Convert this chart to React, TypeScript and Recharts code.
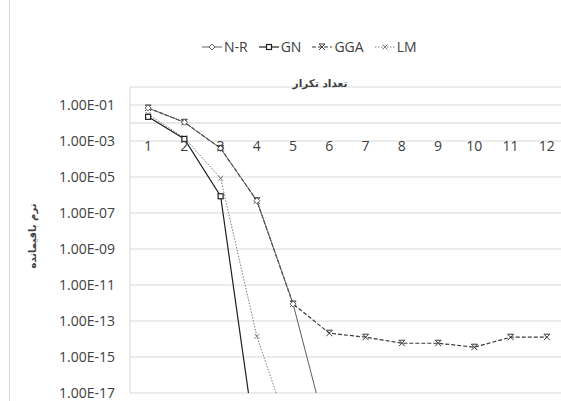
import React from 'react';
import { LineChart, Line, XAxis, YAxis, CartesianGrid, ReferenceLine, Legend } from 'recharts';

const iterations = [1, 2, 3, 4, 5, 6, 7, 8, 9, 10, 11, 12];
const nrValues = [6.8e-2, 1.1e-2, 3.9e-4, 4.8e-7, 8.7e-13, 1.6e-20, null, null, null, null, null, null];
const gnValues = [2.2e-2, 1.3e-3, 8.5e-7, 5e-21, null, null, null, null, null, null, null, null];
const ggaValues = [6.8e-2, 1.1e-2, 3.9e-4, 4.8e-7, 8.7e-13, 2.1e-14, 1.26e-14, 5.8e-15, 5.8e-15, 3.5e-15, 1.26e-14, 1.26e-14];
const lmValues = [3.0e-2, 1.5e-3, 8.5e-6, 1.4e-14, 1.6e-20, null, null, null, null, null, null, null];
const yTicks = [1e-17, 1e-15, 1e-13, 1e-11, 1e-9, 1e-7, 1e-5, 1e-3, 1e-1];

const xTitle = 'تعداد تکرار';
const yTitle = 'نرم باقیمانده';

const data = iterations.map((it, i) => ({
  iter: String(it),
  nr: nrValues[i],
  gn: gnValues[i],
  gga: ggaValues[i],
  lm: lmValues[i],
}));

type MarkerKind = 'diamond' | 'square' | 'cross' | 'smallcross';

const series: { key: string; name: string; color: string; dash?: string; width: number; marker: MarkerKind }[] = [
  { key: 'lm', name: 'LM', color: '#7a7a7a', dash: '1.5 1.5', width: 1, marker: 'smallcross' },
  { key: 'gn', name: 'GN', color: '#1f1f1f', width: 1.2, marker: 'square' },
  { key: 'gga', name: 'GGA', color: '#3a3a3a', dash: '4 2', width: 1.2, marker: 'cross' },
  { key: 'nr', name: 'N-R', color: '#5e5e5e', width: 1, marker: 'diamond' },
];
const legendOrder = ['nr', 'gn', 'gga', 'lm'];

function Marker({ kind, cx, cy, color }: { kind: MarkerKind; cx: number; cy: number; color: string }) {
  if (cx == null || cy == null || isNaN(cx) || isNaN(cy)) return null;
  if (kind === 'diamond') {
    return <path d={`M${cx},${cy - 3} L${cx + 3},${cy} L${cx},${cy + 3} L${cx - 3},${cy} Z`} fill="#fff" stroke={color} strokeWidth={1} />;
  }
  if (kind === 'square') {
    return <rect x={cx - 2.5} y={cy - 2.5} width={5} height={5} fill="#fff" stroke={color} strokeWidth={1.2} />;
  }
  const s = kind === 'cross' ? 3 : 2.5;
  return (
    <g stroke={color} strokeWidth={1}>
      <line x1={cx - s} y1={cy - s} x2={cx + s} y2={cy + s} />
      <line x1={cx - s} y1={cy + s} x2={cx + s} y2={cy - s} />
      {kind === 'cross' && <line x1={cx - s} y1={cy - s} x2={cx + s} y2={cy - s} />}
    </g>
  );
}

function fmtExp(v: number) {
  const [m, e] = v.toExponential(2).split('e');
  const n = parseInt(e, 10);
  const sign = n < 0 ? '-' : '+';
  const abs = Math.abs(n);
  return `${m}E${sign}${abs < 10 ? '0' + abs : abs}`;
}

const textColor = '#404040';
const font = '"Open Sans", "Liberation Sans", sans-serif';

function XTick(props: any) {
  const { x, y, payload } = props;
  return (
    <text x={x} y={y + 58} textAnchor="middle" dominantBaseline="central" fill={textColor} fontSize={14} fontFamily={font}>
      {payload.value}
    </text>
  );
}

function LegendContent() {
  return (
    <div style={{ display: 'flex', alignItems: 'center', fontFamily: font, fontSize: 14, color: textColor }}>
      {legendOrder.map((k) => {
        const s = series.find((x) => x.key === k)!;
        return (
          <div key={k} style={{ display: 'flex', alignItems: 'center', marginRight: 11 }}>
            <svg width={20} height={10} style={{ marginRight: 2 }}>
              <line x1={0} y1={5} x2={20} y2={5} stroke={s.color} strokeWidth={s.width} strokeDasharray={s.dash} />
              <Marker kind={s.marker} cx={10} cy={5} color={s.color} />
            </svg>
            <span>{s.name}</span>
          </div>
        );
      })}
    </div>
  );
}

export default function App() {
  return (
    <div style={{ position: 'relative', width: 561, height: 401, overflow: 'hidden', background: '#fff' }}>
      <style>{'html,body{margin:0;padding:0;overflow:hidden;}'}</style>
      <div style={{ position: 'absolute', left: 9, top: 0, width: 1, height: 401, background: '#d9d9d9' }} />
      <LineChart width={565} height={401} data={data} margin={{ top: 86, right: 0, bottom: 8, left: 0 }}>
        <CartesianGrid horizontal vertical={false} stroke="#d9d9d9" strokeWidth={1} />
        <ReferenceLine y={1e-2} stroke="#d0d0d0" strokeWidth={1} ifOverflow="hidden" />
        <XAxis
          dataKey="iter"
          orientation="top"
          scale="band"
          height={1}
          axisLine={false}
          tickLine={false}
          tickSize={0}
          tickMargin={0}
          interval={0}
          tick={(p: any) => <XTick {...p} />}
        />
        <YAxis
          scale="log"
          domain={[1e-17, 1]}
          ticks={yTicks}
          allowDataOverflow
          width={130}
          axisLine={{ stroke: '#d9d9d9' }}
          tickLine={false}
          tickSize={0}
          tickMargin={15}
          interval={0}
          tickFormatter={fmtExp}
          tick={{ fill: textColor, fontSize: 14, fontFamily: font }}
        />
        <Legend
          layout="horizontal"
          align="center"
          verticalAlign="middle"
          wrapperStyle={{ top: 37, left: 202, width: 320 }}
          content={() => <LegendContent />}
        />
        {series.map((s) => (
          <Line
            key={s.key}
            dataKey={s.key}
            name={s.name}
            type="linear"
            stroke={s.color}
            strokeWidth={s.width}
            strokeDasharray={s.dash}
            isAnimationActive={false}
            connectNulls={false}
            dot={(p: any) => <Marker key={`${s.key}-${p.index}`} kind={s.marker} cx={p.cx} cy={p.cy} color={s.color} />}
            activeDot={false}
          />
        ))}
      </LineChart>
      <svg style={{ position: 'absolute', left: 0, top: 0, pointerEvents: 'none' }} width={561} height={401}>
        <text x={320} y={87} textAnchor="middle" fill={textColor} fontSize={10.5} fontWeight="bold" fontFamily='"DejaVu Sans", sans-serif'>
          {xTitle}
        </text>
        <text
          x={32}
          y={236}
          textAnchor="middle"
          dominantBaseline="central"
          transform="rotate(-90 32 236)"
          fill={textColor}
          fontSize={10}
          fontWeight="bold"
          fontFamily='"DejaVu Sans", sans-serif'
        >
          {yTitle}
        </text>
      </svg>
    </div>
  );
}
